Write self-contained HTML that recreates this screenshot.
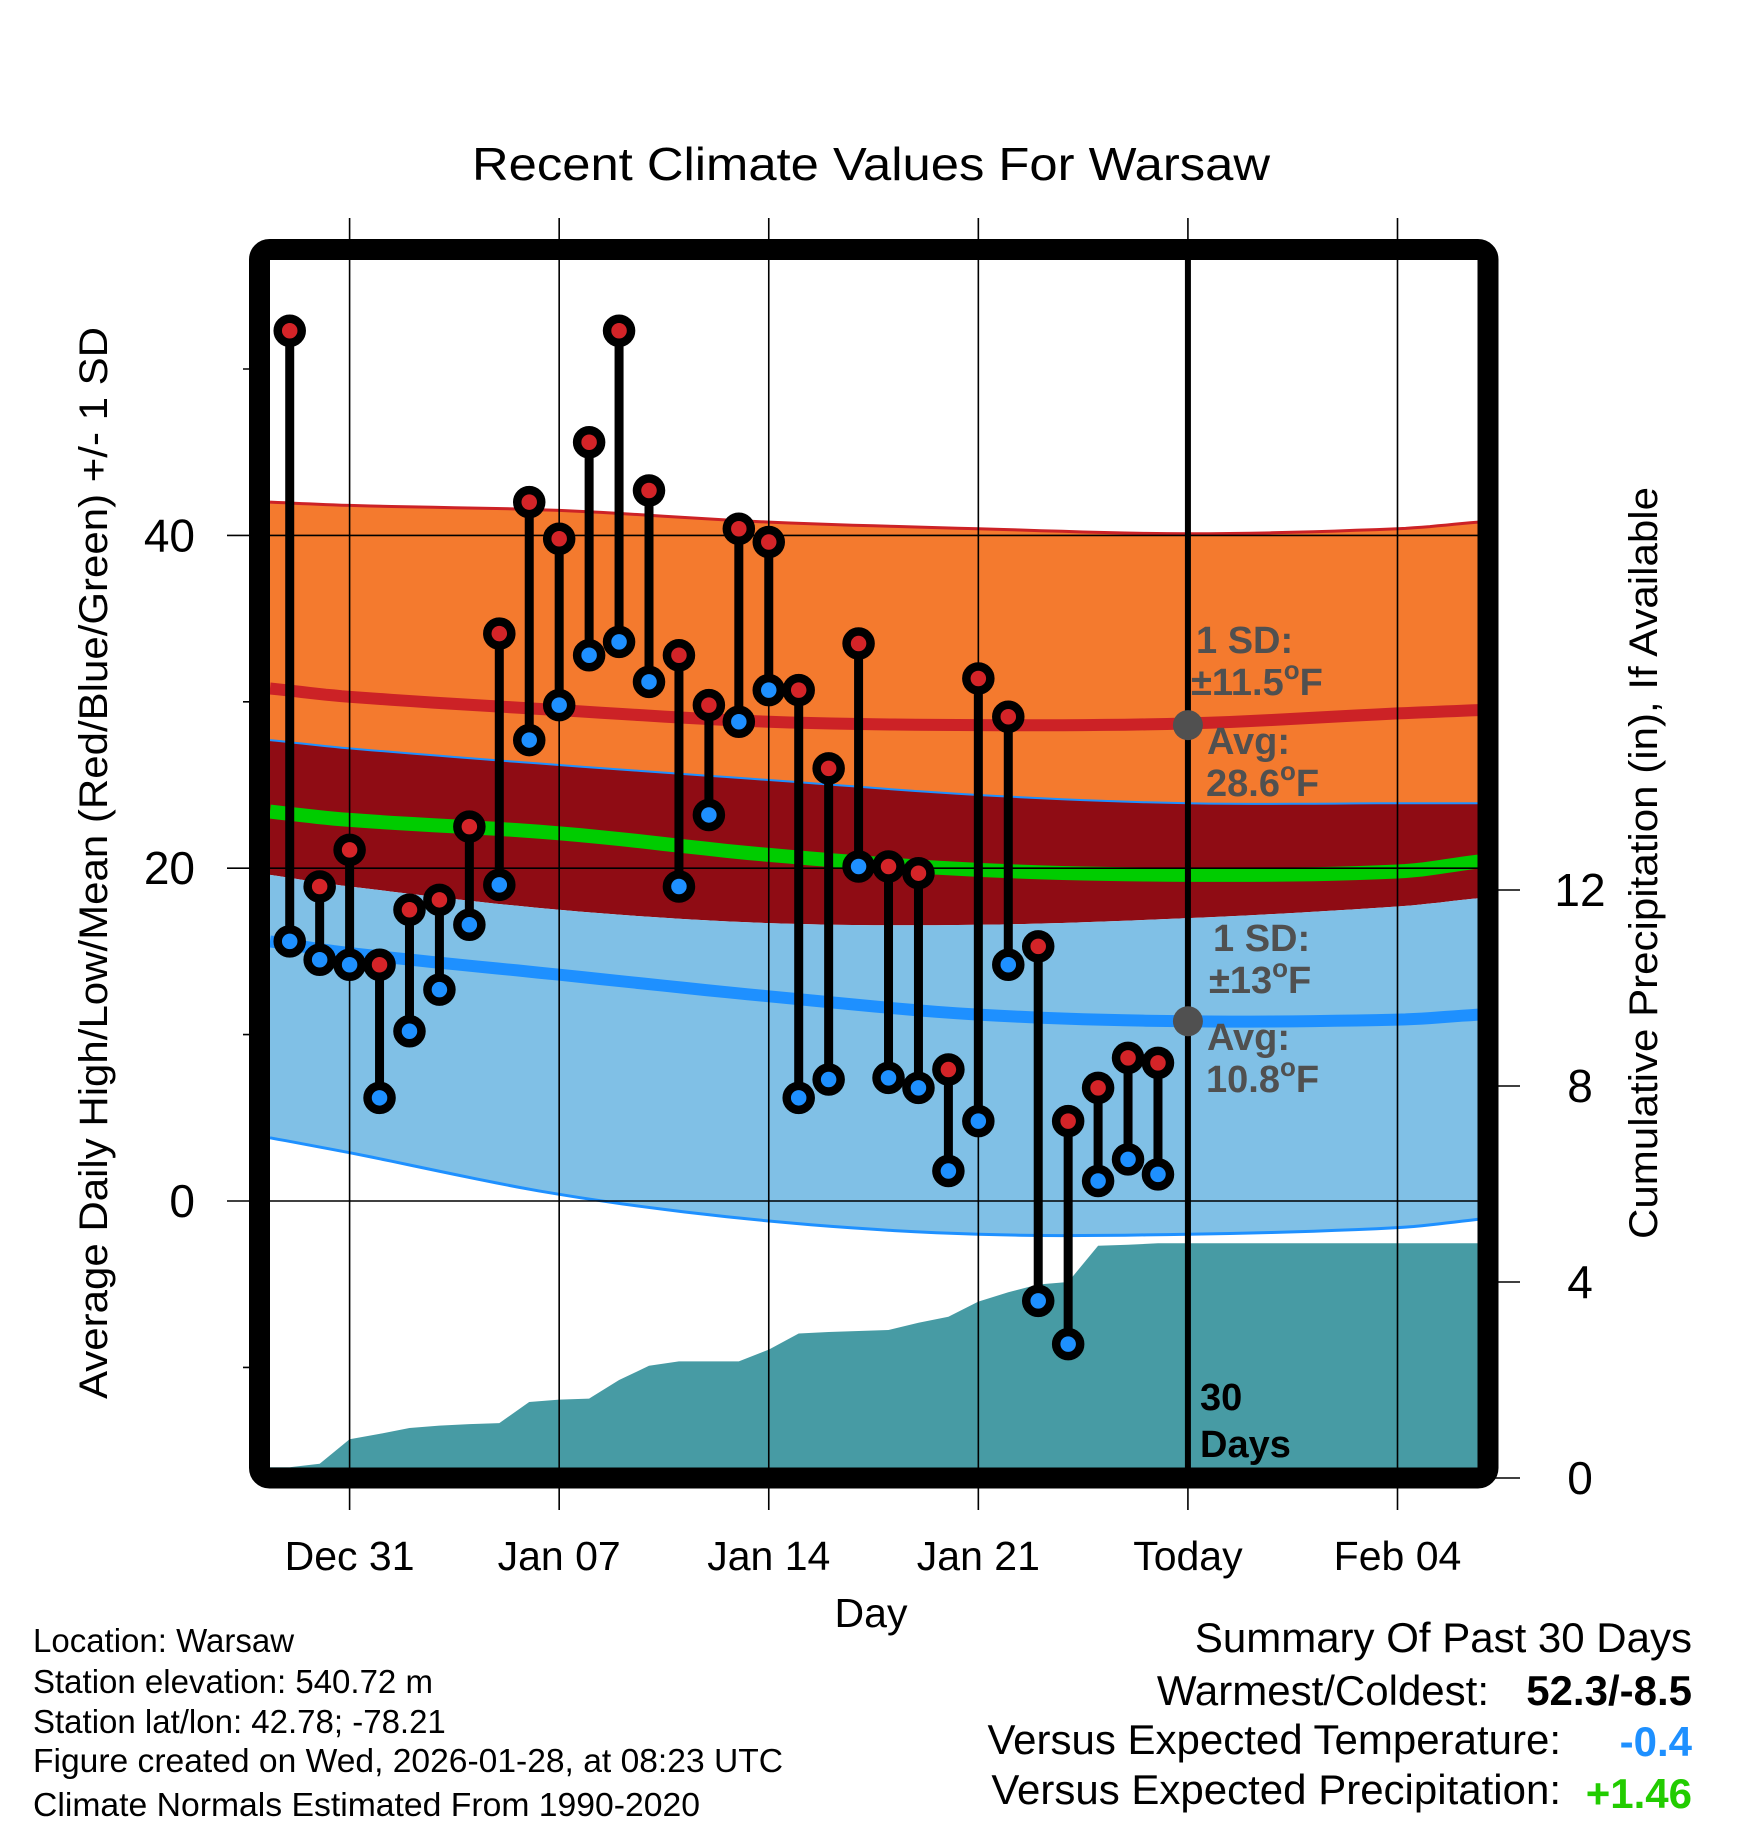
<!DOCTYPE html>
<html><head><meta charset="utf-8"><style>
html,body{margin:0;padding:0;background:#fff;}
svg{display:block;font-family:"Liberation Sans",sans-serif;}
</style></head><body>
<svg id="chart" width="1748" height="1828" viewBox="0 0 1748 1828" xmlns="http://www.w3.org/2000/svg">
<g id="bands"></g>
<g id="precip"></g>
<g id="grid"></g>
<g id="marks"></g>
<g id="annot"></g>
<g id="frame"></g>
<g id="texts"></g>
</svg>
<script>
// ---- data ----
const dayLabels = ["Dec 31","Jan 07","Jan 14","Jan 21","Today","Feb 04"];
const dayTicks = [0,7,14,21,28,35];
const tempTicks = [0,20,40];
const tempMinorTicks = [-10,10,30,50];
const precipTicks = [0,4,8,12];
// observed days: offset from Dec 31 (Dec 29 .. Jan 27)
const obsDays = [-2,-1,0,1,2,3,4,5,6,7,8,9,10,11,12,13,14,15,16,17,18,19,20,21,22,23,24,25,26,27];
const highs = [52.3,18.9,21.1,14.2,17.5,18.1,22.5,34.1,42.0,39.8,45.6,52.3,42.7,32.8,29.8,40.4,39.6,30.7,26.0,33.5,20.1,19.7,7.9,31.4,29.1,15.3,4.8,6.8,8.6,8.3];
const lows = [15.6,14.5,14.2,6.2,10.2,12.7,16.6,19.0,27.7,29.8,32.8,33.6,31.2,18.9,23.2,28.8,30.7,6.2,7.3,20.1,7.4,6.8,1.8,4.8,14.2,-6.0,-8.6,1.2,2.5,1.6];
const precipCum = [0.22,0.29,0.79,0.9,1.02,1.07,1.1,1.12,1.55,1.6,1.62,2.0,2.29,2.38,2.38,2.38,2.62,2.95,2.98,3.0,3.02,3.17,3.29,3.6,3.79,3.95,4.0,4.74,4.76,4.79];
// normals sampled at days
const normDays = [-2.66,0,7,14,21,28,35,37.7];
const hiUpper = [42.0,41.8,41.5,40.8,40.4,40.1,40.4,40.8];
const hiMean = [30.8,30.3,29.5,28.8,28.6,28.7,29.3,29.5];
const hiLower = [27.7,27.2,26.2,25.3,24.4,23.9,23.9,23.9];
const avgMean = [23.4,22.9,22.1,20.8,19.9,19.6,19.8,20.4];
const loUpper = [19.6,18.9,17.5,16.7,16.6,17.0,17.7,18.2];
const loMean = [15.6,14.9,13.6,12.3,11.2,10.8,10.9,11.2];
const loLower = [3.8,2.9,0.4,-1.2,-2.0,-2.0,-1.6,-1.1];

// ---- scales ----
const PL=270, PR=1478, PT=260, PB=1468;
const X = d => 349.6 + d*29.94;
const Y = t => 1201 - t*16.64;
const YP = p => 1478 - p*49;
const NS="http://www.w3.org/2000/svg";
function mk(tag, parent, attrs){const e=document.createElementNS(NS,tag);for(const k in attrs)e.setAttribute(k,attrs[k]);parent.appendChild(e);return e;}
const bands=document.getElementById('bands'), precip=document.getElementById('precip'), grid=document.getElementById('grid'), marks=document.getElementById('marks'), annot=document.getElementById('annot'), frame=document.getElementById('frame'), texts=document.getElementById('texts');

// smooth sampling (monotone-ish Catmull-Rom in value space)
function sample(arr){
  const out=[];
  for(let i=0;i<normDays.length-1;i++){
    const p0=arr[Math.max(0,i-1)],p1=arr[i],p2=arr[i+1],p3=arr[Math.min(arr.length-1,i+2)];
    const d0=normDays[Math.max(0,i-1)],d1=normDays[i],d2=normDays[i+1],d3=normDays[Math.min(arr.length-1,i+2)];
    const m1=(p2-p0)/((d2-d0)||1)*(d2-d1), m2=(p3-p1)/((d3-d1)||1)*(d2-d1);
    for(let s=0;s<10;s++){const t=s/10,t2=t*t,t3=t2*t;
      const v=(2*t3-3*t2+1)*p1+(t3-2*t2+t)*m1+(-2*t3+3*t2)*p2+(t3-t2)*m2;
      out.push([d1+(d2-d1)*t,v]);}
  }
  out.push([normDays[normDays.length-1],arr[arr.length-1]]);
  return out;
}
function linePts(arr){return sample(arr).map(p=>X(p[0]).toFixed(1)+","+Y(p[1]).toFixed(1));}
function bandPath(top,bot){const a=linePts(top), b=linePts(bot).reverse();return "M"+a.join(" L")+" L"+b.join(" L")+" Z";}
let e;
e=mk('path',bands,{d:bandPath(hiUpper,hiLower),fill:'#f47a2e'});


e=mk('path',bands,{d:bandPath(hiLower,loUpper),fill:'#8f0c14'});


e=mk('path',bands,{d:bandPath(loUpper,loLower),fill:'#80c0e6'});


e=mk('polyline',bands,{points:linePts(hiUpper).join(" "),fill:'none',stroke:'#cc2226',"stroke-width":3});


e=mk('polyline',bands,{points:linePts(hiLower).join(" "),fill:'none',stroke:'#1e90ff',"stroke-width":2});


e=mk('polyline',bands,{points:linePts(loLower).join(" "),fill:'none',stroke:'#1e90ff',"stroke-width":3});


e=mk('polyline',bands,{points:linePts(hiMean).join(" "),fill:'none',stroke:'#cc2226',"stroke-width":12});


e=mk('polyline',bands,{points:linePts(avgMean).join(" "),fill:'none',stroke:'#00cc00',"stroke-width":14});


e=mk('polyline',bands,{points:linePts(loMean).join(" "),fill:'none',stroke:'#1e90ff',"stroke-width":12});



// precip area
let pd="M"+PL+","+PB+" L"+PL+","+YP(precipCum[0]).toFixed(1);
obsDays.forEach((d,i)=>{pd+=" L"+X(d).toFixed(1)+","+YP(precipCum[i]).toFixed(1);});
pd+=" L"+PR+","+YP(precipCum[precipCum.length-1]).toFixed(1)+" L"+PR+","+PB+" Z";
e=mk('path',precip,{d:pd,fill:'#479ba4'});



// grid
dayTicks.forEach((d,i)=>{
  e=mk('line',grid,{x1:X(d),x2:X(d),y1:218,y2:1510,stroke:'#000',"stroke-width":1.6});
  
  
  e=mk('text',texts,{x:X(d),y:1570,"font-size":41,"text-anchor":"middle",fill:'#000'});
  e.textContent=dayLabels[i];
  
  
});
tempTicks.forEach(t=>{
  e=mk('line',grid,{x1:227,x2:PR,y1:Y(t),y2:Y(t),stroke:'#000',"stroke-width":1.6});
  
  
  e=mk('text',texts,{x:195,y:Y(t)+16,"font-size":46,"text-anchor":"end",fill:'#000'});
  e.textContent=t;
  
  
});
tempMinorTicks.forEach(t=>{
  e=mk('line',grid,{x1:243,x2:PL,y1:Y(t),y2:Y(t),stroke:'#000',"stroke-width":1.6});
  
  
});
precipTicks.forEach(p=>{
  e=mk('line',grid,{x1:1488,x2:1520,y1:YP(p),y2:YP(p),stroke:'#000',"stroke-width":1.6});
  
  
  e=mk('text',texts,{x:1580,y:YP(p)+16,"font-size":46,"text-anchor":"middle",fill:'#000'});
  e.textContent=p;
  
  
});
e=mk('line',grid,{x1:X(28),x2:X(28),y1:PT,y2:PB,stroke:'#000',"stroke-width":6});



// marks
obsDays.forEach((d,i)=>{
  e=mk('line',marks,{x1:X(d),x2:X(d),y1:Y(highs[i]),y2:Y(lows[i]),stroke:'#000',"stroke-width":9});
  
  
});
obsDays.forEach((d,i)=>{
  e=mk('circle',marks,{cx:X(d),cy:Y(highs[i]),r:12,fill:'#d42428',stroke:'#000',"stroke-width":8.5});
  
  
  e=mk('circle',marks,{cx:X(d),cy:Y(lows[i]),r:12,fill:'#1e90ff',stroke:'#000',"stroke-width":8.5});
  
  
});

// annotation dots
e=mk('circle',annot,{cx:X(28),cy:Y(28.6),r:15,fill:'#505050'});


e=mk('circle',annot,{cx:X(28),cy:Y(10.8),r:15,fill:'#505050'});



// frame
e=mk('rect',frame,{x:259.5,y:249.5,width:1228.5,height:1228.5,rx:10,fill:'none',stroke:'#000',"stroke-width":21});


</script>
<svg style="position:absolute;left:0;top:0" width="1748" height="1828" xmlns="http://www.w3.org/2000/svg" font-family="Liberation Sans, sans-serif">
<text x="871" y="180" font-size="46" text-anchor="middle" textLength="798" lengthAdjust="spacingAndGlyphs">Recent Climate Values For Warsaw</text>
<g font-weight="bold" font-size="38" fill="#505050">
<text x="1196" y="653">1 SD:</text>
<text x="1191" y="695">±11.5<tspan font-size="26" dy="-16">o</tspan><tspan dy="16">F</tspan></text>
<text x="1207" y="754">Avg:</text>
<text x="1206" y="796">28.6<tspan font-size="26" dy="-16">o</tspan><tspan dy="16">F</tspan></text>
<text x="1213" y="951">1 SD:</text>
<text x="1209" y="993">±13<tspan font-size="26" dy="-16">o</tspan><tspan dy="16">F</tspan></text>
<text x="1207" y="1050">Avg:</text>
<text x="1206" y="1092">10.8<tspan font-size="26" dy="-16">o</tspan><tspan dy="16">F</tspan></text>
</g>
<text x="1200" y="1410" font-size="38" font-weight="bold">30</text>
<text x="1200" y="1457" font-size="38" font-weight="bold">Days</text>
<text x="871" y="1627" font-size="41" text-anchor="middle">Day</text>
<text transform="translate(107,863) rotate(-90)" font-size="40" text-anchor="middle" textLength="1072" lengthAdjust="spacingAndGlyphs">Average Daily High/Low/Mean (Red/Blue/Green) +/- 1 SD</text>
<text transform="translate(1657,863) rotate(-90)" font-size="40" text-anchor="middle" textLength="752" lengthAdjust="spacingAndGlyphs">Cumulative Precipitation (in), If Available</text>
<g font-size="33">
<text x="33" y="1652">Location: Warsaw</text>
<text x="33" y="1693">Station elevation: 540.72 m</text>
<text x="33" y="1733">Station lat/lon: 42.78; -78.21</text>
<text x="33" y="1772" textLength="750" lengthAdjust="spacingAndGlyphs">Figure created on Wed, 2026-01-28, at 08:23 UTC</text>
<text x="33" y="1816" textLength="667" lengthAdjust="spacingAndGlyphs">Climate Normals Estimated From 1990-2020</text>
</g>
<g font-size="42" text-anchor="end">
<text x="1692" y="1652">Summary Of Past 30 Days</text>
<text x="1489" y="1705">Warmest/Coldest:</text>
<text x="1692" y="1705" font-weight="bold">52.3/-8.5</text>
<text x="1561" y="1754">Versus Expected Temperature:</text>
<text x="1692" y="1756" font-weight="bold" fill="#1e90ff">-0.4</text>
<text x="1561" y="1804">Versus Expected Precipitation:</text>
<text x="1692" y="1808" font-weight="bold" fill="#22cc00">+1.46</text>
</g>
</svg>
</body></html>
